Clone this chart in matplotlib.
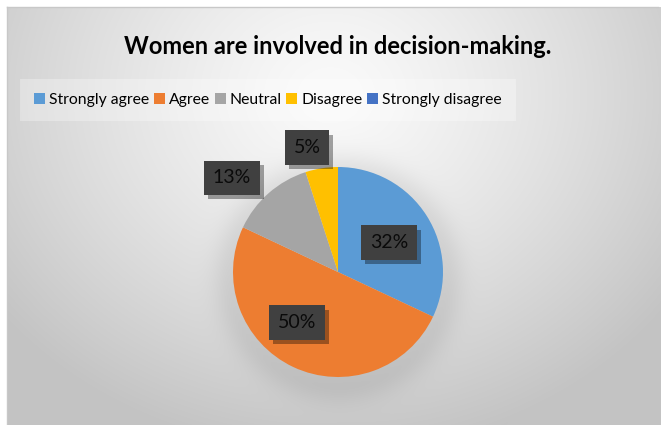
import numpy as np
import matplotlib
matplotlib.use("Agg")
import matplotlib.pyplot as plt
from matplotlib.patches import Patch
from matplotlib.lines import Line2D
import matplotlib.patheffects as pe

# Survey responses
categories = ["Strongly agree", "Agree", "Neutral", "Disagree", "Strongly disagree"]
shares = [32, 50, 13, 5, 0]
colors = ["#5B9BD5", "#ED7D31", "#A5A5A5", "#FFC000", "#4472C4"]
title = "Women are involved in decision-making."

W, H = 661, 425
fig = plt.figure(figsize=(W / 100, H / 100), dpi=100)
fig.patch.set_facecolor("white")

# Chart area background: soft radial gradient with a shadow under the pie
x0, y0 = 7, 7
bg_ax = fig.add_axes([x0 / W, 0, 1 - x0 / W, 1 - y0 / H])
bg_ax.set_axis_off()
gw, gh = W - x0, H - y0
yy, xx = np.mgrid[0:gh, 0:gw].astype(float)
cx, cy = 330 - x0, 95 - y0
d = np.sqrt(((xx - cx) / 420) ** 2 + ((yy - cy) / 360) ** 2)
val = 250 - 55 * np.clip(d, 0, 1) ** 1.3
pcx, pcy, pr = 338 - x0, 278 - y0, 106
dist = np.sqrt((xx - pcx) ** 2 + (yy - pcy) ** 2) - pr
shadow = 18 * np.exp(-np.clip(dist, 0, None) ** 2 / (2 * 14 ** 2))
val = val - shadow
img = np.dstack([val, val, val]) / 255.0
bg_ax.imshow(img, extent=[0, gw, gh, 0], aspect="auto", interpolation="bilinear")
bg_ax.set_xlim(0, gw)
bg_ax.set_ylim(gh, 0)
fig.add_artist(Line2D([x0 / W, 0.996], [1 - y0 / H, 1 - y0 / H], color="#c8c8c8", lw=1))
fig.add_artist(Line2D([x0 / W, x0 / W], [0, 1 - y0 / H], color="#c8c8c8", lw=1))

# Pie axes: 1 data unit = pie radius (105 px)
R = 105
half = 1.7
cxp, cyp = 338, 272
aw, ah = 2 * half * R / W, 2 * half * R / H
ax = fig.add_axes([(cxp - half * R) / W, (H - cyp - half * R) / H, aw, ah])
ax.pie(shares, colors=colors, startangle=90, counterclock=False, radius=1.0,
       wedgeprops=dict(linewidth=0))
ax.set_xlim(-half, half)
ax.set_ylim(-half, half)
ax.set_aspect("equal")
ax.set_axis_off()
ax.patch.set_alpha(0)

# Data label placement (angle in degrees, distance in radii)
label_layout = [(30, 0.56), (-129, 0.62), (138.4, 1.35), (104, 1.22)]
for (ang, dist_r), s in zip(label_layout, shares):
    t = np.deg2rad(ang)
    txt = ax.text(dist_r * np.cos(t), dist_r * np.sin(t), f"{s}%",
                  ha="center", va="center", fontsize=14, color="#0a0a0a",
                  family="Lato",
                  bbox=dict(boxstyle="square,pad=0.45", facecolor="#404040",
                            edgecolor="none"))
    txt.get_bbox_patch().set_path_effects(
        [pe.SimplePatchShadow(offset=(3, -3), shadow_rgbFace="black", alpha=0.35),
         pe.Normal()])

fig.text(338 / W, 1 - 47 / H, title, ha="center", va="center",
         fontsize=17, fontweight="bold", family="Lato", color="black")

handles = [Patch(facecolor=c, edgecolor="none") for c in colors]
leg = fig.legend(handles, categories, ncol=5, loc="center",
                 bbox_to_anchor=(268 / W, 1 - 100 / H), frameon=True,
                 prop=dict(family="Lato", size=11.3),
                 handlelength=0.7, handleheight=0.7, handletextpad=0.25,
                 columnspacing=0.3, borderpad=0.9, borderaxespad=0,
                 fancybox=False,
                 facecolor="white", edgecolor="none", framealpha=0.3)

fig.savefig("out.png", dpi=100)
